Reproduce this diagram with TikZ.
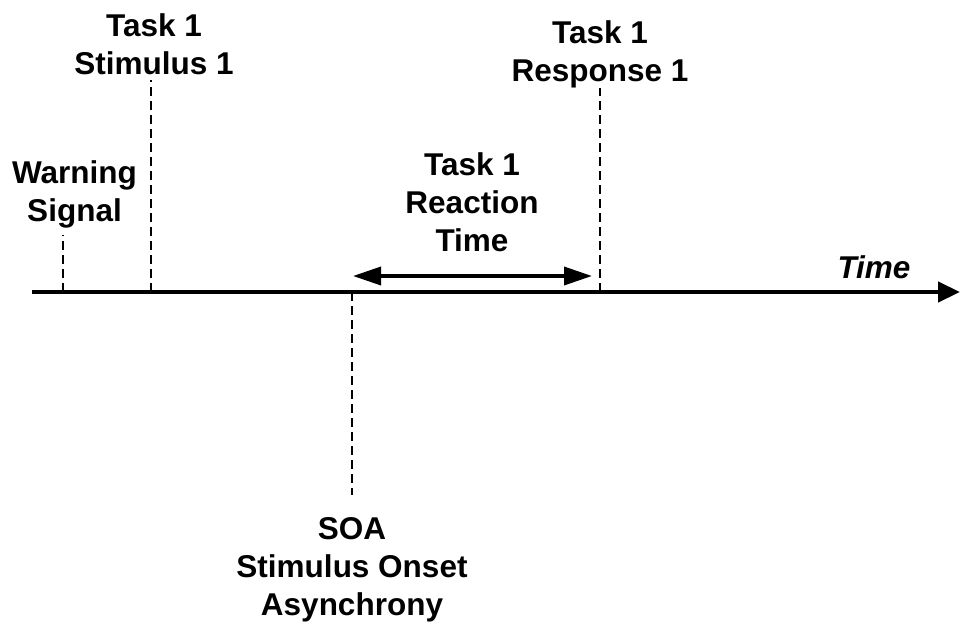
\documentclass[tikz,border=0pt]{standalone}
\usepackage{fontspec}
\setmainfont{Liberation Sans}
\usetikzlibrary{arrows.meta}
\begin{document}
\begin{tikzpicture}[x=1pt,y=-1pt,
  lbl/.style={anchor=north,inner sep=0pt,align=center,font=\fontsize{31.5}{38}\selectfont\bfseries},
  tick/.style={line width=2.4pt,dash pattern=on 9pt off 5pt},
  axis/.style={line width=4.4pt,-{Triangle[length=22pt,width=20pt]}},
  span/.style={line width=3.6pt,{Triangle[length=28pt,width=18pt]}-{Triangle[length=28pt,width=18pt]}}]
\useasboundingbox (0,0) rectangle (960,624);
% axis
\coordinate (a0) at (32,292);
\coordinate (a1) at (960,292);
\draw[axis] (a0) -- (a1);
\node[anchor=base,inner sep=0pt,font=\fontsize{31.5}{38}\selectfont\bfseries\itshape] (time) at (874,278) {Time};
% labels
\node[lbl] (warn) at (74.5,160) {Warning\\Signal};
\node[lbl] (stim) at (154,13) {Task 1\\Stimulus 1};
\node[lbl] (resp) at (600,20) {Task 1\\Response 1};
\node[lbl] (rt) at (472,152) {Task 1\\Reaction\\Time};
\node[lbl] (soa) at (352,517) {SOA\\Stimulus Onset\\Asynchrony};
% tick coordinates
\coordinate (wA) at (63,292);  \coordinate (wT) at (63,235);
\coordinate (sA) at (151,292); \coordinate (sT) at (151,80);
\coordinate (rA) at (600,292); \coordinate (rT) at (600,88);
\coordinate (oA) at (352,292); \coordinate (oT) at (352,495);
\draw[tick] (wA) -- (wT);
\draw[tick] (sA) -- (sT);
\draw[tick] (rA) -- (rT);
\draw[tick] (oA) -- (oT);
% reaction time span
\coordinate (rtL) at (353,276);
\coordinate (rtR) at (592,276);
\draw[span] (rtL) -- (rtR);
\end{tikzpicture}
\end{document}
